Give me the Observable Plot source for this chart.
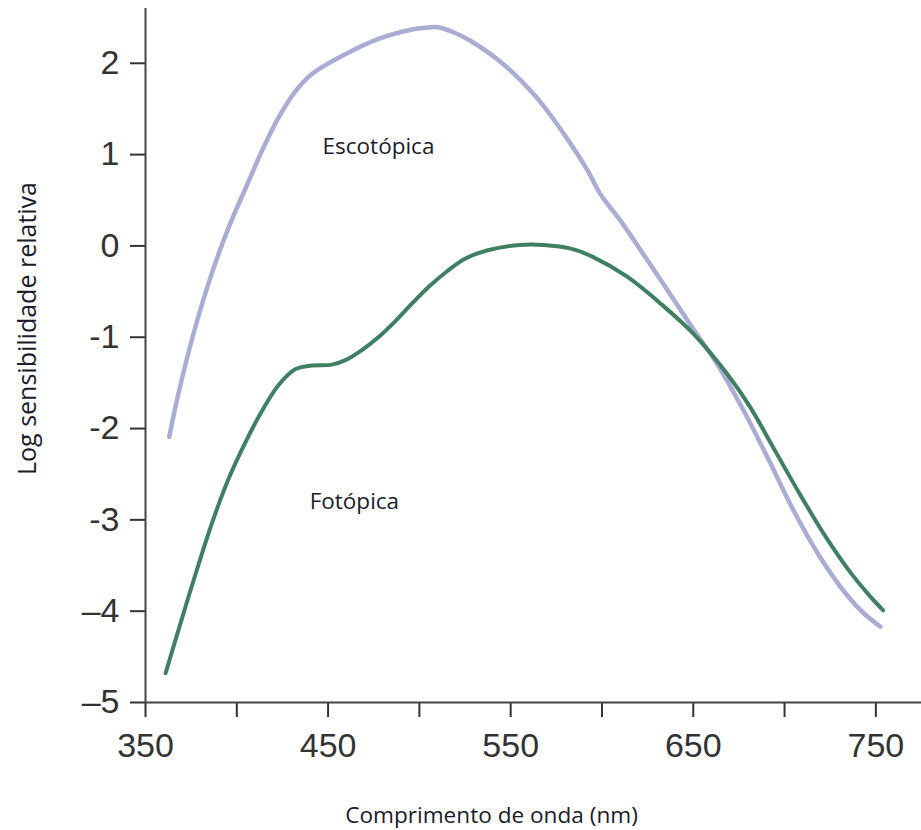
<!DOCTYPE html>
<html>
<head>
<meta charset="utf-8">
<script src="https://cdn.jsdelivr.net/npm/d3@7"></script>
<script src="https://cdn.jsdelivr.net/npm/@observablehq/plot@0.6"></script>
<style>
  html, body { margin: 0; padding: 0; background: #fff; }
</style>
</head>
<body>
<div id="chart"></div>
<script>
// Escotópica (scotopic) curve
const escotopicaNm  = [363, 368, 377, 386.5, 395.5, 405, 414, 423, 432, 441, 459.5, 478, 496, 503.3, 510.4, 518.6, 527.7, 546, 564, 579, 592, 599, 610, 625, 641, 650, 663, 677.5, 690.5, 705, 719.5, 734, 743.2, 752.5];
const escotopicaLog = [-2.09, -1.62, -0.91, -0.29, 0.20, 0.64, 1.05, 1.41, 1.69, 1.88, 2.10, 2.27, 2.37, 2.39, 2.395, 2.34, 2.25, 1.99, 1.63, 1.23, 0.83, 0.57, 0.28, -0.16, -0.64, -0.91, -1.29, -1.80, -2.31, -2.90, -3.41, -3.82, -4.02, -4.17];

// Fotópica (photopic) curve
const fotopicaNm  = [361, 368, 377, 386.5, 395.5, 405, 414, 423, 432, 441, 452, 459.5, 468.5, 477.5, 487, 496, 505, 515, 525, 537, 555, 568, 583, 595, 614, 632, 650, 668.5, 681, 695, 709, 723, 737, 747, 754];
const fotopicaLog = [-4.68, -4.21, -3.62, -3.03, -2.55, -2.14, -1.80, -1.52, -1.35, -1.31, -1.30, -1.25, -1.14, -1.00, -0.82, -0.63, -0.45, -0.28, -0.14, -0.05, 0.01, 0.01, -0.03, -0.12, -0.34, -0.63, -0.96, -1.40, -1.76, -2.25, -2.74, -3.20, -3.60, -3.84, -3.99];

// Ticks and labels
const xTicks = [350, 400, 450, 500, 550, 600, 650, 700, 750];
const xTickLabels = ["350", "", "450", "", "550", "", "650", "", "750"];
const yTicks = [2, 1, 0, -1, -2, -3, -4, -5];
const yTickLabels = ["2", "1", "0", "-1", "-2", "-3", "\u20134", "\u20135"];

// Curve annotations
const curveNames = ["Escotópica", "Fotópica"];
const curveNameNm = [477.6, 464.4];
const curveNameLog = [1.09, -2.80];

const xTitle = "Comprimento de onda (nm)";
const yTitle = "Log sensibilidade relativa";

const esc = escotopicaNm.map((x, i) => ({x, y: escotopicaLog[i]}));
const fot = fotopicaNm.map((x, i) => ({x, y: fotopicaLog[i]}));
const names = curveNames.map((t, i) => ({t, x: curveNameNm[i], y: curveNameLog[i]}));

const chart = Plot.plot({
  width: 921,
  height: 830,
  marginLeft: 145,
  marginRight: 0,
  marginTop: 8,
  marginBottom: 128,
  style: {fontFamily: "Liberation Sans, Arial, sans-serif", background: "#fff"},
  x: {domain: [350, 775]},
  y: {domain: [-5, 2.6]},
  marks: [
    Plot.axisX({ticks: xTicks, tickSize: 15, tickPadding: 15, fontSize: 34, color: "#333", strokeWidth: 2,
      tickFormat: d => xTickLabels[xTicks.indexOf(d)], label: null}),
    Plot.axisY({ticks: yTicks, tickSize: 15, tickPadding: 11, fontSize: 34, color: "#333", strokeWidth: 2,
      tickFormat: d => yTickLabels[yTicks.indexOf(d)], label: null}),
    Plot.ruleX([350], {y1: -5, y2: 2.6, stroke: "#444", strokeWidth: 2}),
    Plot.ruleY([-5], {x1: 350, x2: 775, stroke: "#444", strokeWidth: 2}),
    Plot.line(esc, {x: "x", y: "y", stroke: "#a9add3", strokeWidth: 4.5, curve: "catmull-rom"}),
    Plot.line(fot, {x: "x", y: "y", stroke: "#3f7f62", strokeWidth: 4, curve: "catmull-rom"}),
    Plot.text(names, {x: "x", y: "y", text: "t", fontFamily: "Open Sans", fontSize: 22.5, fill: "#1b1b2b", textAnchor: "middle", lineAnchor: "middle"}),
    Plot.text([xTitle], {frameAnchor: "bottom", dx: -42, dy: 113, fontFamily: "Open Sans", fontSize: 22.6, fill: "#1b1b2b", textAnchor: "middle", lineAnchor: "middle"}),
    Plot.text([yTitle], {frameAnchor: "left", rotate: -90, dx: -118, dy: -27, fontFamily: "Open Sans", fontSize: 25, fill: "#1b1b2b", textAnchor: "middle", lineAnchor: "middle"})
  ]
});
document.getElementById("chart").appendChild(chart);
</script>
</body>
</html>
